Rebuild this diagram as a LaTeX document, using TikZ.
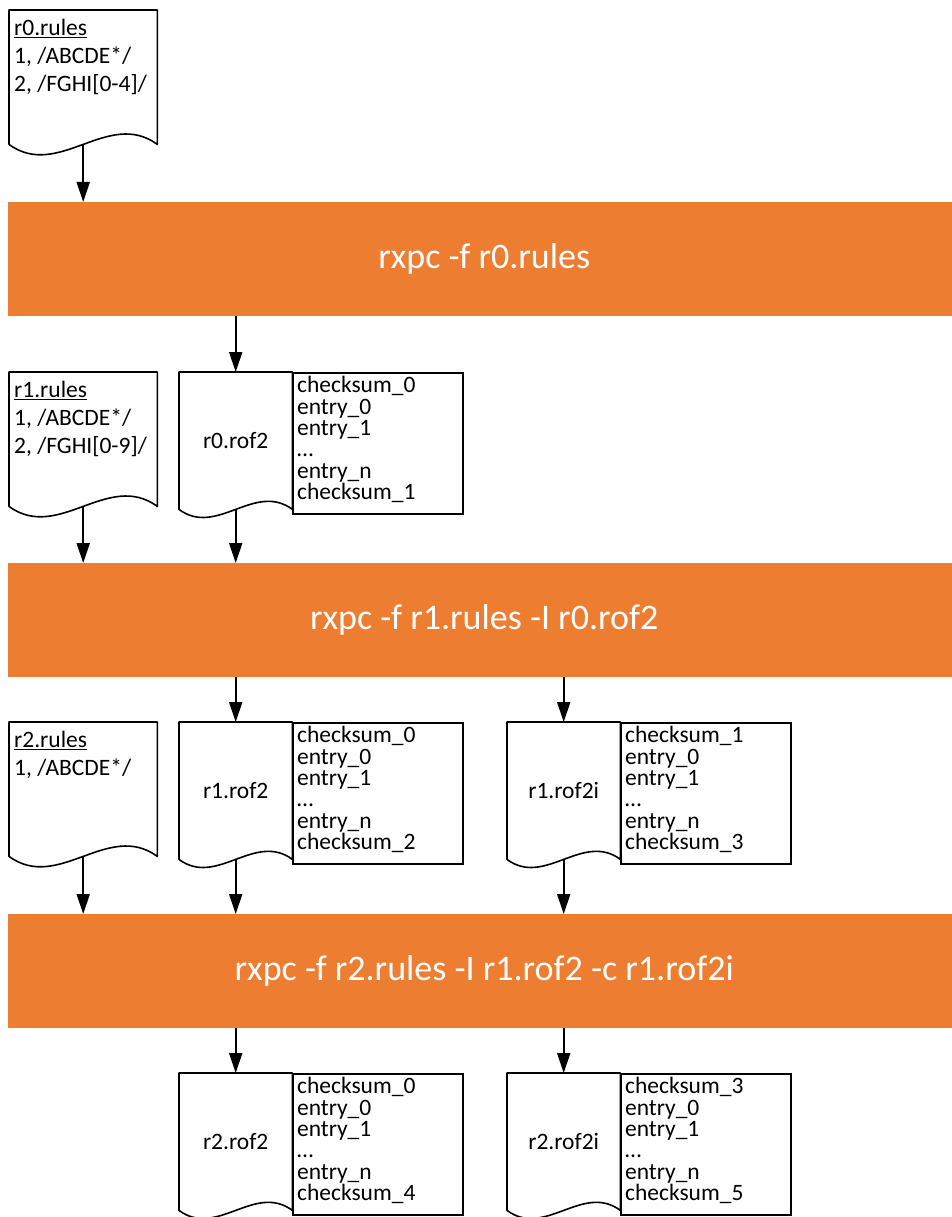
\documentclass[tikz,border=0pt]{standalone}
\usepackage{fontspec}
\setmainfont{Carlito}
\usetikzlibrary{calc, positioning, arrows.meta}

\definecolor{barorange}{HTML}{ED7D31}

\tikzset{
	cmdbar/.style={anchor=north west, fill=barorange, text=white, minimum width=952pt, minimum height=114pt, inner sep=0pt, font=\fontsize{36}{43}\selectfont},
	rulesdoc/.style={anchor=north west, minimum width=148pt, minimum height=134pt, inner sep=0pt},
	rulestext/.style={anchor=north west, align=left, inner xsep=5pt, inner ysep=9pt, font=\fontsize{23.5}{28}\selectfont},
	rofdoc/.style={anchor=north west, minimum width=113pt, minimum height=137pt, inner sep=0pt, font=\fontsize{23.5}{28}\selectfont},
	rofbox/.style={anchor=north west, draw, line width=1.6pt, minimum width=170pt, minimum height=141pt, inner sep=0pt},
	roftext/.style={anchor=north west, align=left, inner xsep=4.5pt, inner ysep=4.2pt, font=\fontsize{23.5}{21.4}\selectfont},
	docline/.style={draw, line width=1.6pt, line join=round},
	flow/.style={line width=2pt, -{Triangle[length=20pt, width=13pt]}}
}

% outline of a document page with a wavy bottom
\newcommand{\docshape}[2]{%
	\draw[docline] (#1.south west) -- (#1.north west) -- (#1.north east) -- (#1.south east)
		.. controls ($(#1.south east)!0.333!(#1.south west)+(0,-#2)$) and ($(#1.south west)!0.333!(#1.south east)+(0,#2)$) .. (#1.south west) -- cycle;}

\begin{document}
\begin{tikzpicture}[x=1pt, y=-1pt]
	\useasboundingbox (0,0) rectangle (951,1217);

	% compiler runs %
	\node[cmdbar] (run0) at (8,202) {rxpc -f r0.rules};
	\node[cmdbar] (run1) at (8,563) {rxpc -f r1.rules -I r0.rof2};
	\node[cmdbar] (run2) at (8,914) {rxpc -f r2.rules -I r1.rof2 -c r1.rof2i};

	% rule files %
	\node[rulesdoc] (r0rules) at (9,10) {};
	\node[rulestext] (r0rulestxt) at (r0rules.north west) {\underline{r0.rules}\\1, /ABCDE*/\\2, /FGHI[0-4]/};
	\node[rulesdoc] (r1rules) at (9,372) {};
	\node[rulestext] (r1rulestxt) at (r1rules.north west) {\underline{r1.rules}\\1, /ABCDE*/\\2, /FGHI[0-9]/};
	\node[rulesdoc] (r2rules) at (9,722) {};
	\node[rulestext] (r2rulestxt) at (r2rules.north west) {\underline{r2.rules}\\1, /ABCDE*/};

	% compiled files %
	\node[rofdoc] (r0rof2) at (179,372) {r0.rof2};
	\node[rofbox] (r0tbl) at (r0rof2.north east) {};
	\node[roftext] (r0tbltxt) at (r0tbl.north west) {checksum\_0\\entry\_0\\entry\_1\\\ldots\\entry\_n\\checksum\_1};

	\node[rofdoc] (r1rof2) at (179,722) {r1.rof2};
	\node[rofbox] (r1tbl) at (r1rof2.north east) {};
	\node[roftext] (r1tbltxt) at (r1tbl.north west) {checksum\_0\\entry\_0\\entry\_1\\\ldots\\entry\_n\\checksum\_2};

	\node[rofdoc] (r1rof2i) at (507,722) {r1.rof2i};
	\node[rofbox] (r1itbl) at (r1rof2i.north east) {};
	\node[roftext] (r1itbltxt) at (r1itbl.north west) {checksum\_1\\entry\_0\\entry\_1\\\ldots\\entry\_n\\checksum\_3};

	\node[rofdoc] (r2rof2) at (179,1073) {r2.rof2};
	\node[rofbox] (r2tbl) at (r2rof2.north east) {};
	\node[roftext] (r2tbltxt) at (r2tbl.north west) {checksum\_0\\entry\_0\\entry\_1\\\ldots\\entry\_n\\checksum\_4};

	\node[rofdoc] (r2rof2i) at (507,1073) {r2.rof2i};
	\node[rofbox] (r2itbl) at (r2rof2i.north east) {};
	\node[roftext] (r2itbltxt) at (r2itbl.north west) {checksum\_3\\entry\_0\\entry\_1\\\ldots\\entry\_n\\checksum\_5};

	% page outlines %
	\foreach \d in {r0rules, r1rules, r2rules} {\docshape{\d}{36}}
	\foreach \d in {r0rof2, r1rof2, r1rof2i, r2rof2, r2rof2i} {\docshape{\d}{28}}

	% edges %
	\draw[flow] (r0rules.south) -- (r0rules.south |- run0.north);
	\draw[flow] (run0.south -| r0rof2.north) -- (r0rof2.north);

	\draw[flow] (r1rules.south) -- (r1rules.south |- run1.north);
	\draw[flow] (r0rof2.south) -- (r0rof2.south |- run1.north);
	\draw[flow] (run1.south -| r1rof2.north) -- (r1rof2.north);
	\draw[flow] (run1.south -| r1rof2i.north) -- (r1rof2i.north);

	\draw[flow] (r2rules.south) -- (r2rules.south |- run2.north);
	\draw[flow] (r1rof2.south) -- (r1rof2.south |- run2.north);
	\draw[flow] (r1rof2i.south) -- (r1rof2i.south |- run2.north);
	\draw[flow] (run2.south -| r2rof2.north) -- (r2rof2.north);
	\draw[flow] (run2.south -| r2rof2i.north) -- (r2rof2i.north);
\end{tikzpicture}
\end{document}
